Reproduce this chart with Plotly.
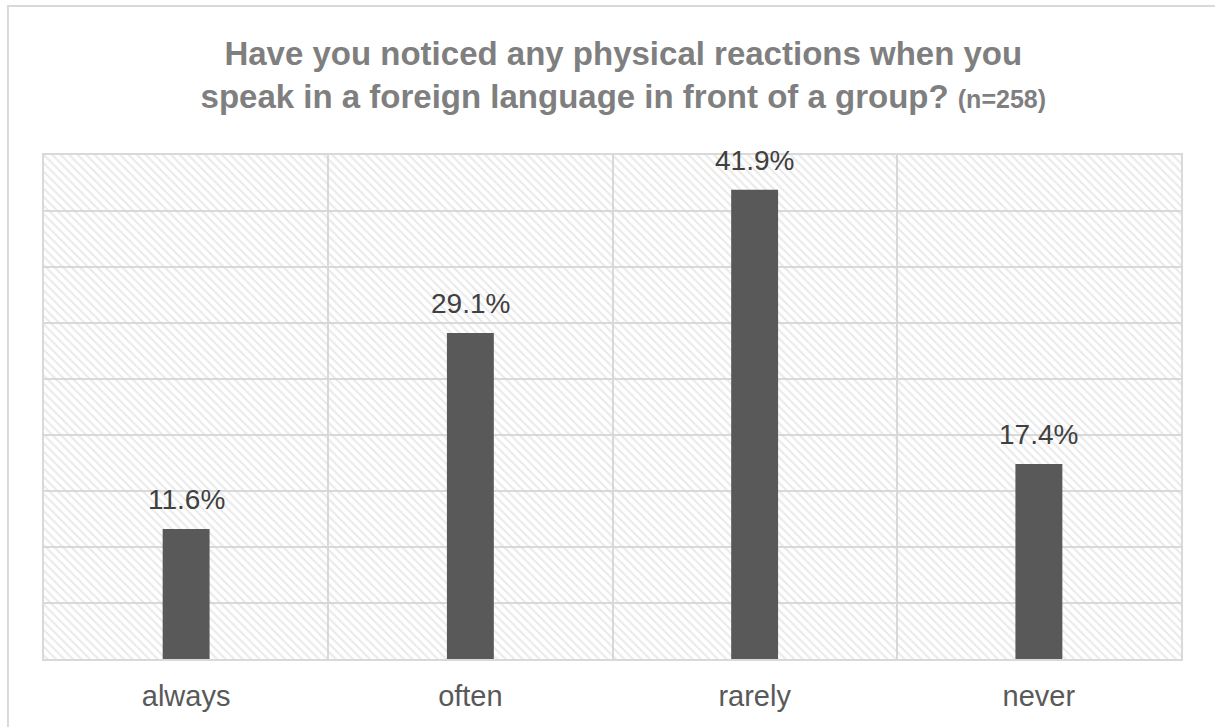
import plotly.graph_objects as go

# Survey responses (n=258)
categories = ["always", "often", "rarely", "never"]
shares = [11.6, 29.1, 41.9, 17.4]
axis_max = 45
axis_step = 5

title_main = "Have you noticed any physical reactions when you<br>speak in a foreign language in front of a group?"
title_note = "(n=258)"

GRID = "#d9d9d9"
BAR = "#595959"

fig = go.Figure()

# Hatched backdrop filling each category column
fig.add_trace(go.Bar(
    x=categories,
    y=[axis_max] * len(categories),
    width=1.0,
    marker=dict(
        color="rgba(255,255,255,0)",
        line=dict(width=0),
        pattern=dict(shape="\\", fgcolor="#d4d4d4", bgcolor="rgba(255,255,255,0)",
                     size=6, solidity=0.35, fillmode="overlay"),
    ),
    hoverinfo="skip",
    showlegend=False,
))

# Response bars
fig.add_trace(go.Bar(
    x=categories,
    y=shares,
    width=0.165,
    marker=dict(color=BAR, line=dict(width=0)),
    showlegend=False,
))

# Value labels above bars
for c, v in zip(categories, shares):
    fig.add_annotation(
        x=c, y=v, text=f"{v:.1f}%", showarrow=False,
        yanchor="bottom", yshift=12,
        font=dict(family="Liberation Sans", size=28, color="#404040"),
    )

# Outer chart frame
fig.add_shape(
    type="rect", xref="paper", yref="paper",
    x0=-0.0317, x1=1.1, y0=-0.2, y1=1.2956,
    line=dict(color=GRID, width=2), fillcolor="rgba(0,0,0,0)", layer="below",
)

fig.update_layout(
    width=1215, height=727,
    margin=dict(l=44, r=34, t=155, b=68),
    paper_bgcolor="white",
    plot_bgcolor="white",
    barmode="overlay",
    title=dict(
        text=f"<b>{title_main} <span style='font-size:25px'>{title_note}</span></b>",
        x=0.513, xanchor="center",
        y=1 - 65 / 727, yanchor="top",
        font=dict(family="Liberation Sans", size=33, color="#7f7f7f"),
    ),
    font=dict(family="Liberation Sans"),
)

fig.update_xaxes(
    type="category",
    tickson="boundaries",
    showgrid=True, gridcolor=GRID, gridwidth=2,
    showline=True, linecolor=GRID, linewidth=2, mirror=True,
    ticks="", ticklabelstandoff=10,
    tickfont=dict(family="Liberation Sans", size=29, color="#595959"),
)
fig.update_yaxes(
    range=[0, axis_max], dtick=axis_step,
    showgrid=True, gridcolor=GRID, gridwidth=2,
    showline=True, linecolor=GRID, linewidth=2, mirror=True,
    showticklabels=False, zeroline=False, ticks="",
)

fig.write_html("out.html")
